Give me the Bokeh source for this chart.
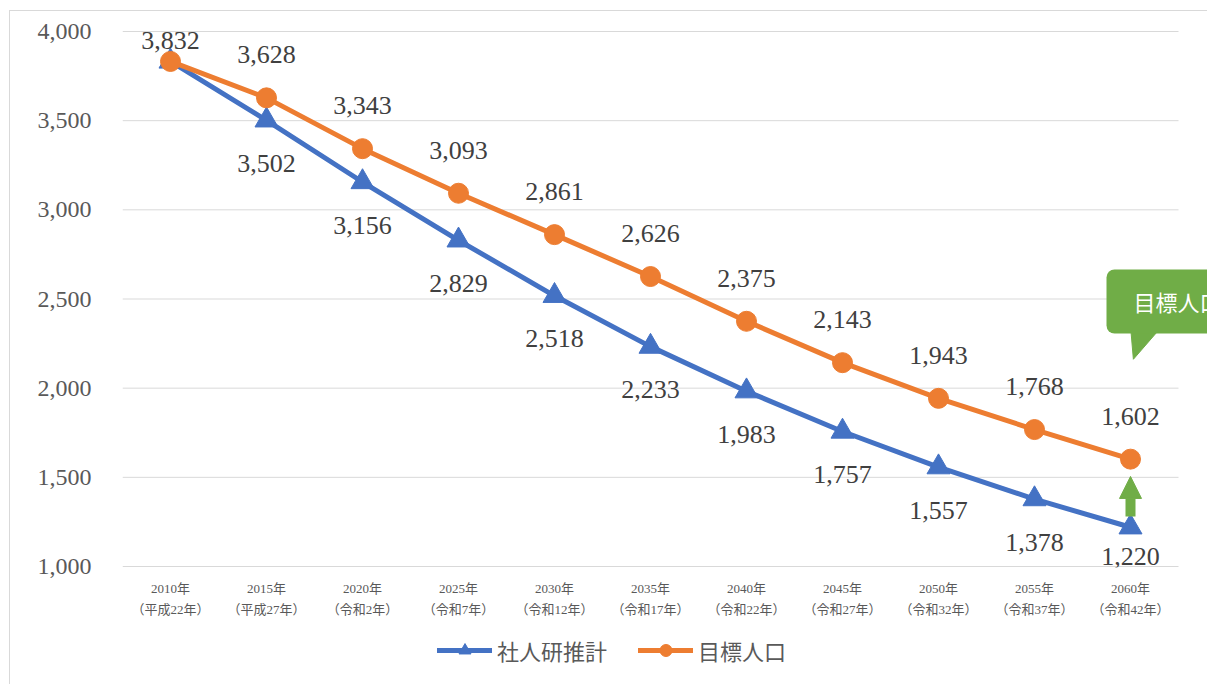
from bokeh.plotting import figure
from bokeh.layouts import column
from bokeh.models import (ColumnDataSource, LabelSet, Label, Legend, LegendItem,
                          NumeralTickFormatter, FixedTicker, Range1d, Arrow, NormalHead)
from bokeh.embed import file_html
from bokeh.resources import INLINE

# ---- data ----
years = ["2010年", "2015年", "2020年", "2025年", "2030年", "2035年",
         "2040年", "2045年", "2050年", "2055年", "2060年"]
eras = ["（平成22年）", "（平成27年）", "（令和2年）", "（令和7年）", "（令和12年）",
        "（令和17年）", "（令和22年）", "（令和27年）", "（令和32年）", "（令和37年）",
        "（令和42年）"]
ipss = [3832, 3502, 3156, 2829, 2518, 2233, 1983, 1757, 1557, 1378, 1220]
target = [3832, 3628, 3343, 3093, 2861, 2626, 2375, 2143, 1943, 1768, 1602]
y_ticks = [1000, 1500, 2000, 2500, 3000, 3500, 4000]
series_names = ["社人研推計", "目標人口"]
callout_text = "目標人口"

# ---- styles ----
BLUE = "#4472C4"
ORANGE = "#ED7D31"
GREEN = "#70AD47"
GRID = "#d9d9d9"
TXT = "#595959"
LBL = "#404040"
SERIF = "'Liberation Serif', 'Noto Sans CJK JP'"
SANS = "'Noto Sans CJK JP'"

W, H = 1197, 614
ML, MR, MT, MB = 112, 0, 19, 58
LEG_H = 59
CAT_PX = 96.0
frame_w = W - ML - MR
frame_h = H - MT - MB
y0, y1 = y_ticks[0], y_ticks[-1]
px_per_unit = (frame_h - 2) / (y1 - y0)
pad = 1 / px_per_unit

xs = list(range(len(years)))
x_end = -0.5 + frame_w / CAT_PX

p = figure(width=W, height=H, output_backend="svg", toolbar_location=None,
           x_range=Range1d(-0.5, x_end), y_range=Range1d(y0 - pad, y1 + pad),
           min_border_left=ML, min_border_right=MR, min_border_top=MT,
           min_border_bottom=MB, background_fill_color="white",
           border_fill_color="white")
p.outline_line_color = None

# axes
p.xaxis.ticker = FixedTicker(ticks=xs)
p.xaxis.major_label_overrides = {i: f"{years[i]}\n{eras[i]}" for i in xs}
p.xaxis.axis_line_color = None
p.xaxis.major_tick_line_color = None
p.xaxis.minor_tick_line_color = None
p.xaxis.major_label_text_font = SERIF
p.xaxis.major_label_text_font_size = "13px"
p.xaxis.major_label_text_color = TXT
p.xaxis.major_label_text_line_height = 1.4
p.xaxis.major_label_standoff = 7

p.yaxis.ticker = FixedTicker(ticks=y_ticks)
p.yaxis.formatter = NumeralTickFormatter(format="0,0")
p.yaxis.axis_line_color = None
p.yaxis.major_tick_line_color = None
p.yaxis.minor_tick_line_color = None
p.yaxis.major_label_text_font = SERIF
p.yaxis.major_label_text_font_size = "24px"
p.yaxis.major_label_text_color = TXT
p.yaxis.major_label_standoff = 25

p.xgrid.grid_line_color = None
p.ygrid.grid_line_color = None

# horizontal gridlines limited to the category span
p.segment(x0=[-0.5] * len(y_ticks), x1=[len(years) - 0.5] * len(y_ticks),
          y0=y_ticks, y1=y_ticks, line_color=GRID, line_width=1)

# series
src_b = ColumnDataSource(dict(x=xs, y=ipss))
src_o = ColumnDataSource(dict(x=xs, y=target))
line_b = dict(line_color=BLUE, line_width=5, line_cap="round", line_join="round")
mark_b = dict(marker="triangle", size=23, fill_color=BLUE, line_color=BLUE)
line_o = dict(line_color=ORANGE, line_width=5, line_cap="round", line_join="round")
mark_o = dict(marker="circle", size=20, fill_color=ORANGE, line_color=ORANGE)
p.line("x", "y", source=src_b, **line_b)
p.scatter("x", "y", source=src_b, **mark_b)
p.line("x", "y", source=src_o, **line_o)
p.scatter("x", "y", source=src_o, **mark_o)

# data labels (kept inside the plot area like the original)
LOFF = 43
o_off = [min(LOFF, (y1 - v) * px_per_unit - 9) for v in target]
lab_o = ColumnDataSource(dict(x=xs, y=target, t=[f"{v:,}" for v in target], off=o_off))
bidx = [i for i in xs if ipss[i] != target[i]]
b_off = [-min(LOFF, (ipss[i] - y0) * px_per_unit - 10) for i in bidx]
lab_b = ColumnDataSource(dict(x=[xs[i] for i in bidx], y=[ipss[i] for i in bidx],
                              t=[f"{ipss[i]:,}" for i in bidx], off=b_off))
p.add_layout(LabelSet(x="x", y="y", text="t", source=lab_o, y_offset="off",
                      text_align="center", text_baseline="middle",
                      text_font=SERIF, text_font_size="26px", text_color=LBL))
p.add_layout(LabelSet(x="x", y="y", text="t", source=lab_b, y_offset="off",
                      text_align="center", text_baseline="middle",
                      text_font=SERIF, text_font_size="26px", text_color=LBL))

# green arrow (annotation)
last = xs[-1]
p.add_layout(Arrow(end=NormalHead(size=22, fill_color=GREEN, line_color=GREEN),
                   x_start=last, y_start=1280, x_end=last, y_end=1505,
                   line_color=GREEN, line_width=10, line_cap="butt"))

# callout (annotation)
p.patch(x=[last - 0.0, last + 0.333, last + 0.03], y=[2350, 2350, 2162],
        fill_color=GREEN, line_color=GREEN)
p.add_layout(Label(x=last, y=2486, x_offset=-24, text=callout_text,
                   text_align="left", text_baseline="middle",
                   text_font=SANS, text_font_size="22px", text_color="white",
                   background_fill_color=GREEN, border_radius=8,
                   padding=(27, 16)))

# legend strip below the chart
lf = figure(width=W, height=LEG_H, output_backend="svg", toolbar_location=None,
            x_range=Range1d(0, 1), y_range=Range1d(0, 1),
            x_axis_type=None, y_axis_type=None, min_border=0,
            background_fill_color="white", border_fill_color="white")
lf.outline_line_color = None
lf.xgrid.grid_line_color = None
lf.ygrid.grid_line_color = None
off_view = dict(x=[-5, -4], y=[-5, -4])
r1 = [lf.line(**off_view, **line_b), lf.scatter(**off_view, **mark_b)]
r2 = [lf.line(**off_view, **line_o), lf.scatter(**off_view, **mark_o)]
legend = Legend(items=[LegendItem(label=series_names[0], renderers=r1),
                       LegendItem(label=series_names[1], renderers=r2)],
                orientation="horizontal", location=(315, 18),
                glyph_width=55, glyph_height=30, label_standoff=5, spacing=31,
                padding=0, margin=0, border_line_color=None,
                background_fill_alpha=0,
                label_text_font=SANS, label_text_font_size="22px",
                label_text_color=TXT)
lf.add_layout(legend)

root = column(p, lf, spacing=0,
              styles={"margin-left": "9px", "margin-top": "10px",
                      "border-left": "1px solid #d9d9d9",
                      "border-top": "1px solid #d9d9d9"})

open("out.html", "w").write(file_html(root, INLINE))
